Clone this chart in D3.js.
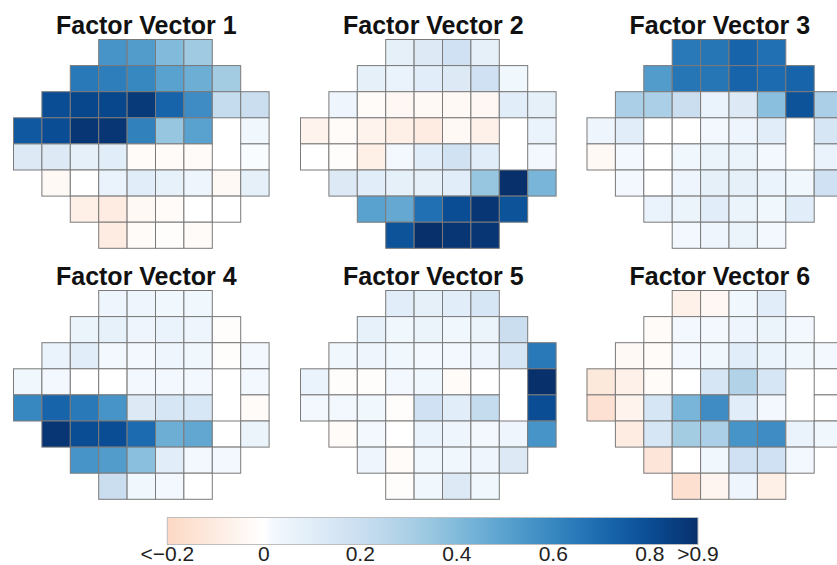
<!DOCTYPE html>
<html>
<head>
<meta charset="utf-8">
<script src="https://cdn.jsdelivr.net/npm/d3@7"></script>
<style>
  body { margin:0; background:#fff; }
  .title { font-family:"Liberation Sans", Arial, sans-serif; font-weight:bold; font-size:25px; fill:#111; }
  .cbar text { font-family:"Liberation Sans", Arial, sans-serif; font-size:21px; fill:#222; }
</style>
</head>
<body>
<div id="canvas"></div>
<script>
// visual field pattern: first and last column of each row, plus blind spot
var rowFirst = [3,2,1,0,0,1,2,3];
var rowLast  = [6,7,8,8,8,8,7,6];
var blindSpot = [[3,7],[4,7]];

var titles = ['Factor Vector 1','Factor Vector 2','Factor Vector 3',
              'Factor Vector 4','Factor Vector 5','Factor Vector 6'];

// values row by row, left to right (blind spot skipped)
var fv1 = [ 0.55, 0.52, 0.40, 0.33,
            0.65, 0.63, 0.60, 0.50, 0.45, 0.32,
            0.80, 0.82, 0.82, 0.87, 0.72, 0.58, 0.22, 0.20,
            0.76, 0.80, 0.88, 0.88, 0.62, 0.35, 0.50, 0.03,
            0.12, 0.12, 0.08, 0.10,-0.02,-0.02,-0.02, 0.01,
           -0.03, 0.00, 0.06, 0.10, 0.07, 0.04,-0.03, 0.08,
           -0.08,-0.10,-0.03,-0.02, 0.00, 0.00,
           -0.10,-0.02,-0.01,-0.02];
var fv2 = [ 0.08, 0.12, 0.18, 0.08,
            0.08, 0.06, 0.10, 0.12, 0.18, 0.03,
            0.04,-0.02,-0.04,-0.03,-0.03,-0.04, 0.10, 0.08,
           -0.06,-0.02,-0.06,-0.08,-0.10,-0.03,-0.07, 0.06,
            0.00,-0.01,-0.08, 0.02, 0.10, 0.17, 0.10, 0.02,
            0.12, 0.10, 0.08, 0.08, 0.10, 0.35, 0.90, 0.42,
            0.50, 0.47, 0.68, 0.80, 0.88, 0.78,
            0.78, 0.90, 0.88, 0.88];
var fv3 = [ 0.65, 0.66, 0.72, 0.68,
            0.52, 0.66, 0.66, 0.72, 0.70, 0.72,
            0.30, 0.30, 0.20, 0.06, 0.12, 0.38, 0.78, 0.30,
            0.04, 0.10, 0.00, 0.00, 0.02, 0.04, 0.10, 0.15,
           -0.03, 0.02, 0.00, 0.03, 0.05, 0.05, 0.02, 0.06,
            0.02, 0.00, 0.04, 0.08, 0.08, 0.06, 0.03, 0.18,
            0.06, 0.05, 0.10, 0.05, 0.03, 0.10,
            0.02, 0.04, 0.05, 0.02];
var fv4 = [ 0.04, 0.04, 0.03, 0.03,
            0.05, 0.07, 0.04, 0.06, 0.04,-0.01,
            0.06, 0.10, 0.02, 0.02, 0.04, 0.03,-0.01, 0.02,
            0.03, 0.02, 0.00, 0.00, 0.02, 0.02, 0.02, 0.02,
            0.60, 0.72, 0.65, 0.55, 0.12, 0.15, 0.14,-0.02,
            0.88, 0.80, 0.80, 0.70, 0.45, 0.48, 0.00, 0.05,
            0.55, 0.52, 0.38, 0.10, 0.02, 0.02,
            0.20, 0.03, 0.02, 0.00];
var fv5 = [ 0.10, 0.08, 0.10, 0.15,
            0.07, 0.03, 0.05, 0.03, 0.05, 0.20,
            0.03, 0.04, 0.03, 0.02, 0.02, 0.04, 0.15, 0.65,
            0.06,-0.01,-0.01, 0.02, 0.03,-0.02, 0.00, 0.90,
            0.02, 0.02, 0.03,-0.01, 0.18, 0.10, 0.22, 0.80,
           -0.02, 0.02, 0.00, 0.06, 0.04, 0.02, 0.04, 0.55,
            0.04,-0.02, 0.03, 0.03, 0.04, 0.12,
           -0.01, 0.03, 0.12, 0.03];
var fv6 = [-0.07,-0.04, 0.03, 0.10,
           -0.02, 0.02, 0.02, 0.04, 0.05, 0.02,
           -0.03,-0.02, 0.02, 0.03, 0.10, 0.06, 0.03, 0.02,
           -0.12,-0.07,-0.02, 0.00, 0.15, 0.28, 0.15, 0.00,
           -0.15,-0.06, 0.15, 0.42, 0.58, 0.10, 0.02, 0.00,
           -0.10, 0.15, 0.32, 0.30, 0.55, 0.58, 0.06, 0.03,
           -0.13, 0.00, 0.03, 0.18, 0.18, 0.02,
           -0.16,-0.05, 0.04,-0.08];
var vectors = [fv1, fv2, fv3, fv4, fv5, fv6];

var legendTicks = [-0.2, 0, 0.2, 0.4, 0.6, 0.8, 0.9];

var W = 837, H = 565;
var svg = d3.select('#canvas').append('svg')
    .attr('width', W).attr('height', H);

// peach below zero, white at zero, Blues up to 0.9
function color(v){
    v = Math.max(-0.2, Math.min(0.9, v));
    if (v < 0) return d3.interpolateRgb('#ffffff', '#fcd8c4')(-v / 0.2);
    if (v < 0.02) return d3.interpolateRgb('#ffffff', d3.interpolateBlues(0.02 / 0.9))(v / 0.02);
    return d3.interpolateBlues(v / 0.9);
}

// cells from the field pattern
var cells = [];
d3.range(8).forEach(function(r){
    d3.range(rowFirst[r], rowLast[r] + 1).forEach(function(c){
        var blind = blindSpot.some(function(b){ return b[0] === r && b[1] === c; });
        if (!blind) cells.push({row:r, col:c});
    });
});

var panelX = [13.5, 300.5, 587];
var panelY = [39.5, 290.5];
var cellW = 28.4, cellH = 26.1;

var x = d3.scaleBand().domain(d3.range(9)).range([0, 9 * cellW]).padding(0);
var y = d3.scaleBand().domain(d3.range(8)).range([0, 8 * cellH]).padding(0);

vectors.forEach(function(vals, i){
    var g = svg.append('g')
        .attr('transform', 'translate(' + panelX[i % 3] + ',' + panelY[Math.floor(i / 3)] + ')');

    g.selectAll('rect')
        .data(cells.map(function(d, k){ return {row:d.row, col:d.col, v:vals[k]}; }))
        .enter().append('rect')
        .attr('x', function(d){ return x(d.col); })
        .attr('y', function(d){ return y(d.row); })
        .attr('width', x.bandwidth())
        .attr('height', y.bandwidth())
        .attr('fill', function(d){ return color(d.v); })
        .attr('stroke', '#7a7a7a')
        .attr('stroke-width', 1);

    g.append('text')
        .attr('class', 'title')
        .attr('x', 9 * cellW / 2 + 5)
        .attr('y', -5.5)
        .attr('text-anchor', 'middle')
        .text(titles[i]);
});

// colour bar
var cx = d3.scaleLinear().domain([-0.2, 0.9]).range([167.3, 698]);
var grad = svg.append('defs').append('linearGradient').attr('id', 'cgrad')
    .attr('x1', '0%').attr('x2', '100%').attr('y1', '0%').attr('y2', '0%');
d3.range(0, 1.0001, 0.02).forEach(function(t){
    grad.append('stop')
        .attr('offset', (t * 100) + '%')
        .attr('stop-color', color(-0.2 + t * 1.1));
});

var cbar = svg.append('g').attr('class', 'cbar');
cbar.append('rect')
    .attr('x', cx(-0.2)).attr('y', 517.5)
    .attr('width', cx(0.9) - cx(-0.2)).attr('height', 27)
    .attr('fill', 'url(#cgrad)')
    .attr('stroke', '#bdbdbd').attr('stroke-width', 1);

cbar.selectAll('.lab')
    .data(legendTicks)
    .enter().append('text')
    .attr('class', 'lab')
    .attr('x', function(d){ return cx(d); })
    .attr('y', 561)
    .attr('text-anchor', 'middle')
    .text(function(d){
        if (d === -0.2) return '<\u22120.2';
        if (d === 0.9) return '>0.9';
        return d === 0 ? '0' : d3.format('.1f')(d);
    });
</script>
</body>
</html>
